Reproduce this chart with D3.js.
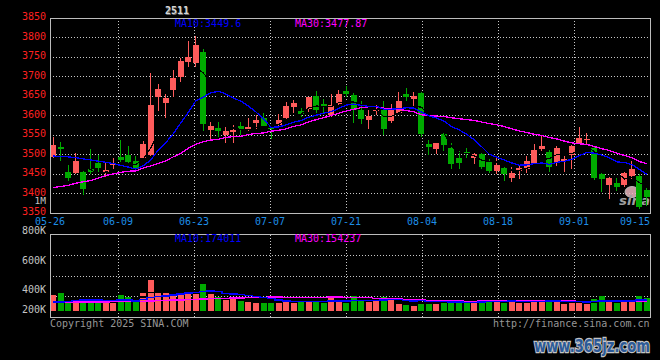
<!DOCTYPE html>
<html><head><meta charset="utf-8">
<script src="https://cdn.jsdelivr.net/npm/d3@7"></script>
<style>html,body{margin:0;padding:0;background:#000;}svg{display:block;}</style>
</head><body>
<svg id="c" width="660" height="360"></svg>
<script>
// ---------- DATA ----------
const title = "2511";
const dates = ["05-26","05-27","05-28","05-29","05-30","06-03","06-04","06-05","06-06",
"06-09","06-10","06-11","06-12","06-13","06-16","06-17","06-18","06-19","06-20",
"06-23","06-24","06-25","06-26","06-27","06-30","07-01","07-02","07-03","07-04",
"07-07","07-08","07-09","07-10","07-11","07-14","07-15","07-16","07-17","07-18",
"07-21","07-22","07-23","07-24","07-25","07-28","07-29","07-30","07-31","08-01",
"08-04","08-05","08-06","08-07","08-08","08-11","08-12","08-13","08-14","08-15",
"08-18","08-19","08-20","08-21","08-22","08-25","08-26","08-27","08-28","08-29",
"09-01","09-02","09-03","09-04","09-05","09-08","09-09","09-10","09-11","09-12","09-15"];
const open  = [3494,3520,3455,3453,3455,3464,3479,3455,3474,3494, 3499,3483,3492,3499,3648,3633,3665,3700,3738,3735,
               3763,3563,3568,3551,3558,3573,3565,3580,3593,3569, 3576,3593,3621,3612,3616,3650,3629,3601,3630,3662,
               3653,3614,3588,3611,3614,3587,3606,3656,3642,3658, 3527,3514,3553,3516,3491,3506,3490,3501,3481,3458,
               3465,3440,3458,3462,3477,3514,3506,3477,3484,3499, 3529,3537,3516,3450,3422,3428,3422,3445,3445,3409];
const high  = [3544,3532,3473,3505,3458,3514,3498,3477,3490,3537, 3522,3496,3535,3710,3681,3655,3717,3747,3791,3804,
               3770,3583,3583,3570,3575,3583,3593,3601,3606,3573, 3604,3634,3640,3619,3648,3663,3642,3655,3666,3676,
               3657,3636,3614,3626,3637,3630,3660,3670,3660,3661, 3537,3530,3556,3529,3508,3516,3505,3504,3488,3494,
               3471,3469,3471,3496,3527,3547,3512,3522,3496,3524, 3570,3556,3520,3452,3442,3439,3456,3483,3450,3413];
const low   = [3492,3484,3433,3451,3396,3450,3456,3443,3464,3481, 3479,3462,3491,3497,3612,3593,3648,3687,3724,3721,
               3561,3537,3544,3529,3529,3549,3560,3565,3570,3541, 3573,3591,3606,3595,3609,3606,3606,3595,3627,3648,
               3582,3578,3566,3601,3549,3582,3604,3636,3623,3544, 3499,3501,3509,3463,3463,3490,3476,3463,3452,3450,
               3433,3430,3436,3452,3471,3509,3455,3471,3455,3463, 3527,3524,3435,3405,3387,3406,3416,3436,3359,3368];
const close = [3524,3515,3440,3484,3412,3454,3465,3461,3479,3486, 3482,3464,3527,3627,3668,3645,3695,3740,3749,3782,
               3578,3573,3561,3561,3563,3563,3570,3588,3573,3567, 3588,3624,3631,3604,3648,3614,3622,3627,3655,3655,
               3614,3591,3600,3614,3566,3618,3637,3648,3650,3553, 3518,3529,3524,3476,3479,3505,3501,3467,3458,3473,
               3450,3452,3465,3483,3511,3522,3467,3516,3488,3522, 3542,3540,3441,3436,3440,3417,3452,3463,3366,3392];
const volume = [248,284,116,144,144,132,124,124,124,248, 217,202,284,481,271,271,264,271,279,295,
                419,264,217,171,178,155,140,124,124,144, 160,160,124,160,144,171,119,197,144,129,
                237,171,144,197,212,197,109,93,78,144,   129,129,155,155,171,129,129,155,155,171,
                129,155,129,129,171,155,171,171,109,129, 129,109,186,233,186,129,144,186,233,197].map(v => v * 1000);
// moving-average values before enough in-window history exists
const ma10Head = [3496,3495,3494,3492,3489,3486,3483,3480,3477];
const ma30Head = [3415,3418,3421,3426,3430,3433,3439,3446,3450,3454,3457,3458,3465,3471,3477,3484,3494,3503,3516,3526,
                  3533,3537,3539,3544,3546,3547,3551,3554,3555];
const volMa10Head = [140,142,150,165,170,170,168,160,158].map(v => v * 1000);
const volMa30Head = [135,136,137,138,139,140,141,142,143,145,147,148,150,156,160,164,168,172,176,180,
                     186,190,193,196,199,202,205,208,211].map(v => v * 1000);
const priceTicks = [3850,3800,3750,3700,3650,3600,3550,3500,3450,3400,3350];
const volTicks = [800000,600000,400000,200000];
const volTickLabels = ["800K","600K","400K","200K"];
const xTickLabels = ["05-26","06-09","06-23","07-07","07-21","08-04","08-18","09-01","09-15"];
const maLabels = ["MA10:3449.6","MA30:3477.87"];
const volMaLabels = ["MA10:174011","MA30:154237"];
const extraAxisLabel = "1M";
const footerLeft = "Copyright 2025 SINA.COM";
const footerRight = "http://finance.sina.com.cn";
const watermark = "www.365jz.com";

// ---------- STYLE ----------
const RED = "#ff5b5b", GREEN = "#00aa00", BLUE = "#0000ff", MAG = "#ff00ff";
const FONT = "'DejaVu Sans Mono', monospace";
const BORDER = "#bcbcbc", GRID = "#c8c8c8";

const svg = d3.select("#c");
svg.append("rect").attr("width",660).attr("height",360).attr("fill","#000");

const L = 50, R = 650, PT = 18, PB = 213, VT = 234.5, VB = 317.5, VBASE = 311;
const x = d3.scaleBand().domain(dates).range([L, R]).paddingInner(0.2).paddingOuter(0);
const bw = x.bandwidth();
const cx = i => x(dates[i]) + bw / 2;
const yP = d3.scaleLinear().domain([3350, 3850]).range([PB, PT]);
const yV = d3.scaleLinear().domain([0, 1178000]).range([VBASE, VT]);
const volLabelY = d3.scaleLinear().domain([800000, 400000]).range([234.3, 293.3]);
const idx = d3.range(dates.length);

function movingAvg(arr, n, head) {
  return arr.map((v, i) => i < n - 1 ? head[i] : d3.mean(arr.slice(i - n + 1, i + 1)));
}
const ma10 = movingAvg(close, 10, ma10Head);
const ma30 = movingAvg(close, 30, ma30Head);
const vma10 = movingAvg(volume, 10, volMa10Head);
const vma30 = movingAvg(volume, 30, volMa30Head);
const ma5 = close.map((v, i) => i < 4 ? null : d3.mean(close.slice(i - 4, i + 1)));
const vma5 = volume.map((v, i) => i < 4 ? null : d3.mean(volume.slice(i - 4, i + 1)));

// ---------- GRID ----------
const grid = svg.append("g").attr("shape-rendering","crispEdges")
  .attr("stroke", GRID).attr("stroke-dasharray","1,2");
const gridStep = 76;
const gridX = d3.range(1, 8).map(k => R - gridStep * k).reverse();
priceTicks.slice(1, -1).forEach(v => {
  grid.append("line").attr("x1",L).attr("x2",R).attr("y1",yP(v)).attr("y2",yP(v));
});
gridX.forEach(gx => {
  grid.append("line").attr("x1",gx).attr("x2",gx).attr("y1",PT).attr("y2",PB);
  grid.append("line").attr("x1",gx).attr("x2",gx).attr("y1",VT).attr("y2",VB);
});
d3.range(1, 4).forEach(k => {
  const gy = VT + (VB - VT) * k / 4;
  grid.append("line").attr("x1",L).attr("x2",R).attr("y1",gy).attr("y2",gy);
});

// sina logo watermark (behind candles)
const logo = svg.append("g").attr("opacity",0.85);
logo.append("ellipse").attr("cx",632).attr("cy",192).attr("rx",7).attr("ry",5.5)
  .attr("fill","#e9b7be").attr("stroke","#d8d8d8").attr("stroke-width",1);
logo.append("text").attr("x",619).attr("y",205).attr("font-family","'DejaVu Sans', sans-serif")
  .attr("font-size",12).attr("font-weight","bold").attr("font-style","italic")
  .attr("fill","#bdbdbd").attr("textLength",31).attr("lengthAdjust","spacingAndGlyphs").text("sina");

// ---------- CANDLES ----------
const gC = svg.append("g").attr("shape-rendering","crispEdges");
const col = i => close[i] >= open[i] ? RED : GREEN;
gC.selectAll("line.w").data(idx).join("line").attr("class","w")
  .attr("x1", i => Math.floor(cx(i)) + 0.5).attr("x2", i => Math.floor(cx(i)) + 0.5)
  .attr("y1", i => yP(high[i])).attr("y2", i => yP(low[i])).attr("stroke", col);
gC.selectAll("rect.b").data(idx).join("rect").attr("class","b")
  .attr("x", i => Math.round(x(dates[i]))).attr("width", Math.round(bw))
  .attr("y", i => yP(Math.max(open[i], close[i])))
  .attr("height", i => Math.max(1, yP(Math.min(open[i], close[i])) - yP(Math.max(open[i], close[i]))))
  .attr("fill", col);

// MA lines
const lineP = d3.line().defined(d => d[1] != null).x(d => cx(d[0])).y(d => yP(d[1]));
const gL = svg.append("g").attr("fill","none").attr("shape-rendering","crispEdges");
gL.append("path").attr("d", lineP(idx.map(i => [i, ma5[i]]))).attr("stroke","#000").attr("stroke-width",1.2);
gL.append("path").attr("d", lineP(idx.map(i => [i, ma30[i]]))).attr("stroke",MAG).attr("stroke-width",1.3);
gL.append("path").attr("d", lineP(idx.map(i => [i, ma10[i]]))).attr("stroke",BLUE).attr("stroke-width",1.3);

// ---------- VOLUME ----------
const gV = svg.append("g").attr("shape-rendering","crispEdges");
gV.selectAll("rect").data(idx).join("rect")
  .attr("x", i => Math.round(x(dates[i]))).attr("width", Math.round(bw))
  .attr("y", i => yV(volume[i])).attr("height", i => VBASE - yV(volume[i])).attr("fill", col);
const lineV = d3.line().defined(d => d[1] != null).x(d => cx(d[0])).y(d => yV(d[1])).curve(d3.curveStep);
gV.append("path").attr("d", lineV(idx.map(i => [i, vma5[i]]))).attr("fill","none").attr("stroke","#000").attr("stroke-width",1.3);
gV.append("path").attr("d", lineV(idx.map(i => [i, vma30[i]]))).attr("fill","none").attr("stroke",MAG).attr("stroke-width",1.5);
gV.append("path").attr("d", lineV(idx.map(i => [i, vma10[i]]))).attr("fill","none").attr("stroke",BLUE).attr("stroke-width",1.5);

// ---------- BORDERS ----------
const gB = svg.append("g").attr("shape-rendering","crispEdges").attr("stroke",BORDER).attr("fill","none");
gB.append("rect").attr("x",L).attr("y",PT).attr("width",R-L).attr("height",PB-PT);
gB.append("rect").attr("x",L).attr("y",VT).attr("width",R-L).attr("height",VB-VT);

// ---------- TEXT ----------
const txt = (xx, yy, s, fill, anchor, size) => svg.append("text").attr("x",xx).attr("y",yy)
  .attr("font-family",FONT).attr("font-size",size||10).attr("fill",fill)
  .attr("text-anchor",anchor||"start").text(s);

priceTicks.forEach(v => txt(46, yP(v) + 2, v, "#ff2020", "end"));
txt(46, 204, extraAxisLabel, "#c4c4c4", "end", 9.5);
volTicks.forEach((v, k) => txt(46, Math.min(volLabelY(v), 313.3), volTickLabels[k], "#c4c4c4", "end"));

// x labels
const XLC = "#1e8ee6";
txt(x(dates[0]), 225, xTickLabels[0], XLC, "middle");
gridX.forEach((gx, k) => txt(gx, 225, xTickLabels[k + 1], XLC, "middle"));
txt(R, 225, xTickLabels[xTickLabels.length - 1], XLC, "end");

// title
svg.append("text").attr("x",177).attr("y",14).attr("font-family",FONT).attr("font-size",10)
  .attr("font-weight","bold").attr("fill","#666").attr("text-anchor","middle").text(title)
  .attr("transform","translate(0.7,0.7)");
svg.append("text").attr("x",177).attr("y",14).attr("font-family",FONT).attr("font-size",10)
  .attr("font-weight","bold").attr("fill","#d6d6d6").attr("text-anchor","middle").text(title);

txt(175, 26.5, maLabels[0], BLUE);
txt(295, 26.5, maLabels[1], MAG);
txt(175, 241.5, volMaLabels[0], BLUE);
txt(295, 241.5, volMaLabels[1], MAG);

txt(L, 327, footerLeft, "#979797");
txt(649.5, 327, footerRight, "#979797", "end");

svg.append("text").attr("x",534).attr("y",352).attr("font-family","'DejaVu Sans', sans-serif")
  .attr("font-size",18).attr("font-weight","bold").attr("fill","#2c5a98")
  .attr("stroke","#c4c4c4").attr("stroke-width",2.4).attr("paint-order","stroke")
  .attr("textLength",116).attr("lengthAdjust","spacingAndGlyphs").text(watermark);
</script>
</body></html>
